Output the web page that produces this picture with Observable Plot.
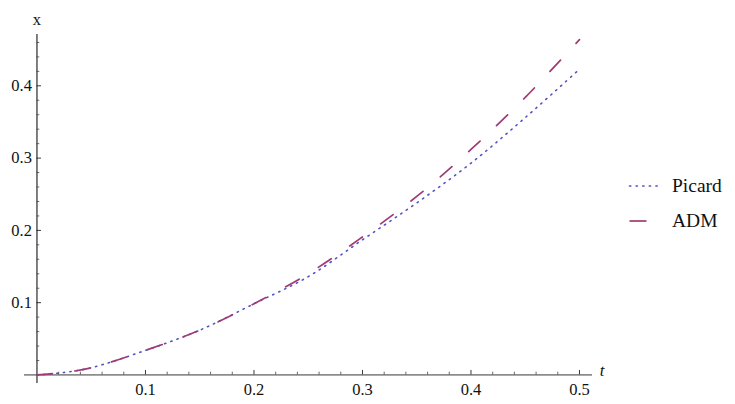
<!DOCTYPE html>
<html>
<head>
<meta charset="utf-8">
<script src="https://cdn.jsdelivr.net/npm/d3@7"></script>
<script src="https://cdn.jsdelivr.net/npm/@observablehq/plot@0.6"></script>
<style>
  html, body { margin: 0; padding: 0; background: #fff; }
  #wrap { position: relative; width: 735px; height: 404px; }
  #legend { position: absolute; left: 628px; top: 168px; font-family: "Liberation Serif", serif; font-size: 19.5px; color: #111; }
  #legend .row { display: flex; align-items: center; height: 35px; }
  #legend svg { margin-right: 13px; }
</style>
</head>
<body>
<div id="wrap"></div>
<script>
// Data
const tValues = [0, 0.025, 0.05, 0.1, 0.15, 0.2, 0.25, 0.3, 0.35, 0.4, 0.45, 0.5];
const picard  = [0, 0.0035, 0.010, 0.034, 0.062, 0.0985, 0.136, 0.187, 0.238, 0.293, 0.356, 0.423];
const adm     = [0, 0.0035, 0.010, 0.034, 0.062, 0.0985, 0.140, 0.191, 0.247, 0.312, 0.384, 0.464];
const seriesNames = ["Picard", "ADM"];
const seriesColors = ["#5252c4", "#9e3b74"];

const xMajorTicks = [0.1, 0.2, 0.3, 0.4, 0.5];
const xMajorLabels = ["0.1", "0.2", "0.3", "0.4", "0.5"];
const xMinorTicks = [0.02, 0.04, 0.06, 0.08, 0.12, 0.14, 0.16, 0.18, 0.22, 0.24, 0.26, 0.28, 0.32, 0.34, 0.36, 0.38, 0.42, 0.44, 0.46, 0.48];
const yMajorTicks = [0.1, 0.2, 0.3, 0.4];
const yMajorLabels = ["0.1", "0.2", "0.3", "0.4"];
const yMinorTicks = [0.02, 0.04, 0.06, 0.08, 0.12, 0.14, 0.16, 0.18, 0.22, 0.24, 0.26, 0.28, 0.32, 0.34, 0.36, 0.38, 0.42, 0.44, 0.46];

const picardData = tValues.map((t, i) => ({t, v: picard[i]}));
const admData = tValues.map((t, i) => ({t, v: adm[i]}));
const xMajor = xMajorTicks.map((v, i) => ({v, label: xMajorLabels[i]}));
const yMajor = yMajorTicks.map((v, i) => ({v, label: yMajorLabels[i]}));

const font = "'Liberation Serif', 'Times New Roman', serif";

const chart = Plot.plot({
  width: 735,
  height: 404,
  marginLeft: 24,
  marginRight: 143,
  marginTop: 34,
  marginBottom: 21,
  style: {fontFamily: font, background: "#fff"},
  x: {domain: [-0.0115, 0.512], axis: null},
  y: {domain: [-0.0118, 0.471], axis: null},
  marks: [
    // axes lines
    Plot.ruleY([0], {stroke: "#8c8c8c", strokeWidth: 1.8}),
    Plot.ruleX([0], {stroke: "#000", strokeWidth: 1}),
    // x ticks (pointing up)
    Plot.ruleX(xMajorTicks, {x: d => d, y1: 0, y2: 0, insetBottom: 4.5, stroke: "#222", strokeWidth: 0.9}),
    Plot.ruleX(xMinorTicks, {x: d => d, y1: 0, y2: 0, insetBottom: 2.8, stroke: "#444", strokeWidth: 0.8}),
    // y ticks (pointing right)
    Plot.ruleY(yMajorTicks, {y: d => d, x1: 0, x2: 0, insetRight: -4.5, stroke: "#222", strokeWidth: 0.9}),
    Plot.ruleY(yMinorTicks, {y: d => d, x1: 0, x2: 0, insetRight: -2.8, stroke: "#444", strokeWidth: 0.8}),
    // tick labels
    Plot.text(xMajor, {x: "v", y: 0, text: "label", dy: 15, fontSize: 16.5, fill: "#111", fontFamily: font}),
    Plot.text(yMajor, {x: 0, y: "v", text: "label", textAnchor: "end", dx: -5, fontSize: 16.5, fill: "#111", fontFamily: font}),
    // axis labels
    Plot.text(["x"], {x: 0, frameAnchor: "top", dy: -21, text: d => d, fontSize: 16.5, fill: "#111", fontFamily: font}),
    Plot.text(["t"], {y: 0, frameAnchor: "right", dx: 12, dy: -4, text: d => d, fontSize: 17, fontStyle: "italic", fill: "#111", fontFamily: font}),
    // series
    Plot.line(picardData, {x: "t", y: "v", stroke: seriesColors[0], strokeWidth: 1.6, strokeDasharray: "1.3,5.3", strokeLinecap: "round", curve: "catmull-rom"}),
    Plot.line(admData, {x: "t", y: "v", stroke: seriesColors[1], strokeWidth: 1.7, strokeDasharray: "15.5,22.5", curve: "catmull-rom"})
  ]
});

const wrap = document.getElementById("wrap");
wrap.appendChild(chart);

const legend = document.createElement("div");
legend.id = "legend";
const dashes = ["1.3,5.3", null];
const sampleLen = [30, 17];
seriesNames.forEach((name, i) => {
  const row = document.createElement("div");
  row.className = "row";
  const ns = "http://www.w3.org/2000/svg";
  const s = document.createElementNS(ns, "svg");
  s.setAttribute("width", 31);
  s.setAttribute("height", 10);
  const l = document.createElementNS(ns, "line");
  l.setAttribute("x1", 1.5); l.setAttribute("x2", 1.5 + sampleLen[i]);
  l.setAttribute("y1", 5); l.setAttribute("y2", 5);
  l.setAttribute("stroke", seriesColors[i]);
  l.setAttribute("stroke-width", i === 0 ? 1.6 : 1.7);
  if (dashes[i]) { l.setAttribute("stroke-dasharray", dashes[i]); l.setAttribute("stroke-linecap", "round"); }
  s.appendChild(l);
  const label = document.createElement("span");
  label.textContent = name;
  row.appendChild(s);
  row.appendChild(label);
  legend.appendChild(row);
});
wrap.appendChild(legend);
</script>
</body>
</html>
